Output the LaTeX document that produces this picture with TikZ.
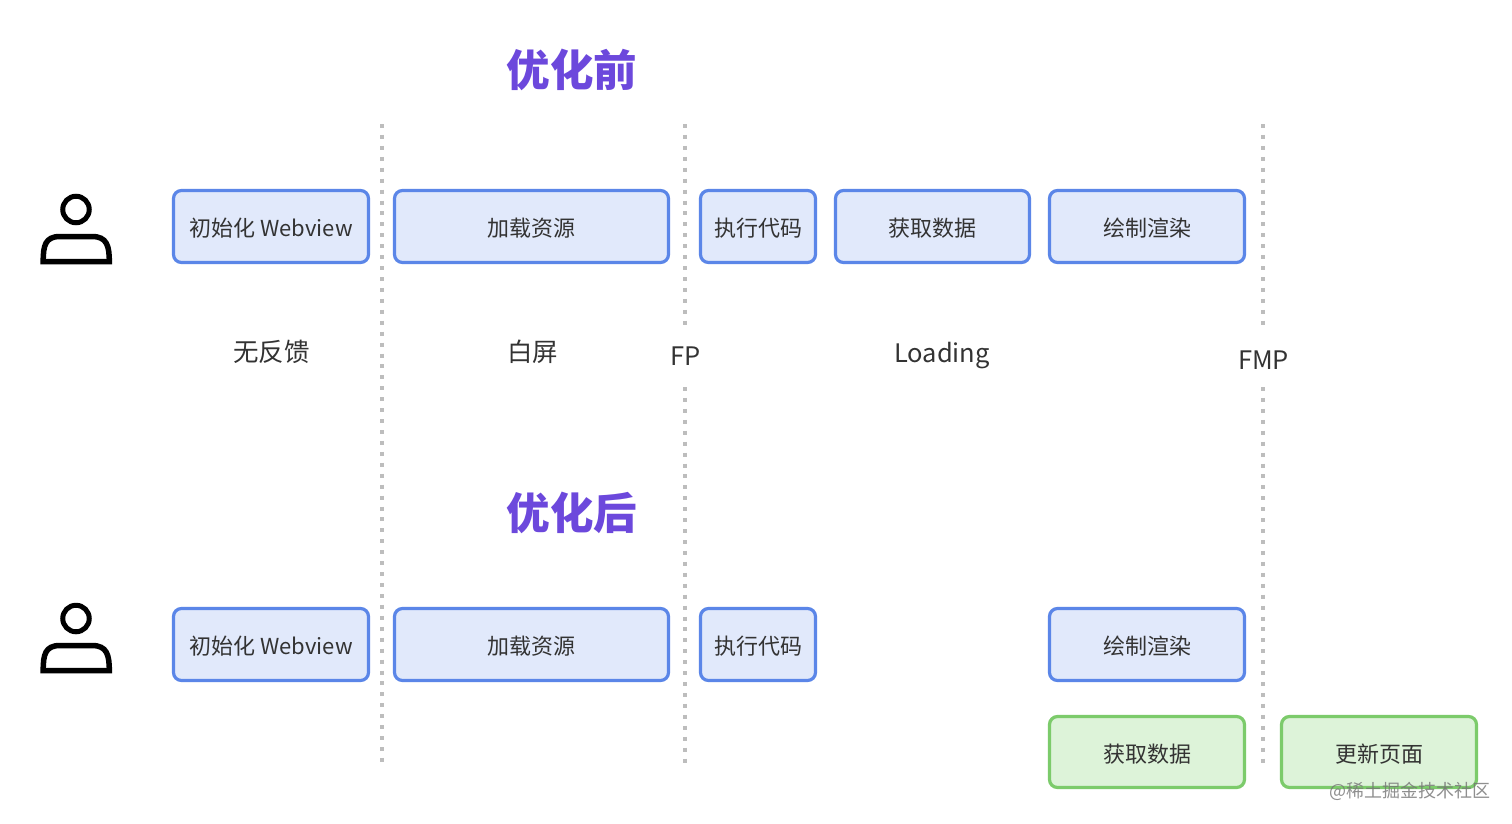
\documentclass[tikz,border=0pt]{standalone}
\usepackage{fontspec}
\setmainfont{Noto Sans CJK SC}
\definecolor{bluefill}{HTML}{E1E9FB}
\definecolor{blueline}{HTML}{5B86E8}
\definecolor{greenfill}{HTML}{DDF3D9}
\definecolor{greenline}{HTML}{7CCB6B}
\definecolor{titlecol}{HTML}{6C48DC}
\definecolor{dotcol}{HTML}{BDBDBD}
\definecolor{txt}{HTML}{333333}
\tikzset{
  x=1pt,y=-1pt,
  stage/.style={rounded corners=8pt,line width=3.2pt,text=txt,font=\fontsize{22}{26}\selectfont,inner sep=0pt,anchor=center},
  bluestage/.style={stage,draw=blueline,fill=bluefill},
  greenstage/.style={stage,draw=greenline,fill=greenfill},
  heading/.style={text=titlecol,font=\fontsize{43.5}{50}\selectfont\bfseries,inner sep=0pt},
  mark label/.style={text=txt,font=\fontsize{25.5}{30}\selectfont,inner sep=0pt},
  dotline/.style={draw=dotcol,line width=4pt,dash pattern=on 4pt off 6.93pt},
  figure line/.style={draw=black,line width=5.5pt,line join=miter}
}
\newcommand{\stagebox}[7]{% name style left top right bottom text
  \node[#2,minimum width=#5-#3-1,minimum height=#6-#4-1] (#1) at ({(#3+#5)/2},{(#4+#6)/2}) {\raisebox{-2pt}[\height][\depth]{#7}};}
\newcommand{\person}[1]{%
  \begin{scope}[yshift=-#1pt]
    \node[circle,draw=black,line width=5pt,minimum size=26.5pt,inner sep=0pt] at (76,209.5) {};
    \draw[figure line] (43.2,261.5) .. controls (43.2,246) and (45,236.5) .. (60,236.5) -- (92,236.5) .. controls (107,236.5) and (109.3,246) .. (109.3,261.5) -- cycle;
  \end{scope}}
\begin{document}
\begin{tikzpicture}
\useasboundingbox (0,0) rectangle (1512,823);
\fill[white] (0,0) rectangle (1512,823);
% guides
\coordinate (a1) at (382,124); \coordinate (a2) at (382,762);
\coordinate (b1) at (685,124); \coordinate (b2) at (685,325);
\coordinate (b3) at (685,387); \coordinate (b4) at (685,763);
\coordinate (c1) at (1263,124); \coordinate (c2) at (1263,325);
\coordinate (c3) at (1263,387); \coordinate (c4) at (1263,763);
\draw[dotline] (a1) -- (a2);
\draw[dotline] (b1) -- (b2);
\draw[dotline] (b3) -- (b4);
\draw[dotline] (c1) -- (c2);
\draw[dotline] (c3) -- (c4);
% titles
\node[heading] (t1) at (572,70) {优化前};
\node[heading] (t2) at (572,513) {优化后};
% people
\person{0}
\person{409}
% upper row
\stagebox{u1}{bluestage}{173}{190}{369}{263}{初始化 Webview}
\stagebox{u2}{bluestage}{394}{190}{669}{263}{加载资源}
\stagebox{u3}{bluestage}{700}{190}{816}{263}{执行代码}
\stagebox{u4}{bluestage}{835}{190}{1030}{263}{获取数据}
\stagebox{u5}{bluestage}{1049}{190}{1245}{263}{绘制渲染}
% labels
\node[mark label] (l1) at (271.5,352) {无反馈};
\node[mark label] (l2) at (532.5,352) {白屏};
\node[mark label] (l3) at (685.5,356) {FP};
\node[mark label] (l4) at (942,355.5) {Loading};
\node[mark label] (l5) at (1263.5,360) {FMP};
% lower row
\stagebox{d1}{bluestage}{173}{608}{369}{681}{初始化 Webview}
\stagebox{d2}{bluestage}{394}{608}{669}{681}{加载资源}
\stagebox{d3}{bluestage}{700}{608}{816}{681}{执行代码}
\stagebox{d5}{bluestage}{1049}{608}{1245}{681}{绘制渲染}
\stagebox{g1}{greenstage}{1049}{716}{1245}{788}{获取数据}
\stagebox{g2}{greenstage}{1281}{716}{1477}{788}{更新页面}
% watermark
\node[text=black!55,opacity=.8,font=\fontsize{18}{22}\selectfont,inner sep=0pt] (wm) at (1409.5,791) {@稀土掘金技术社区};
\end{tikzpicture}
\end{document}
